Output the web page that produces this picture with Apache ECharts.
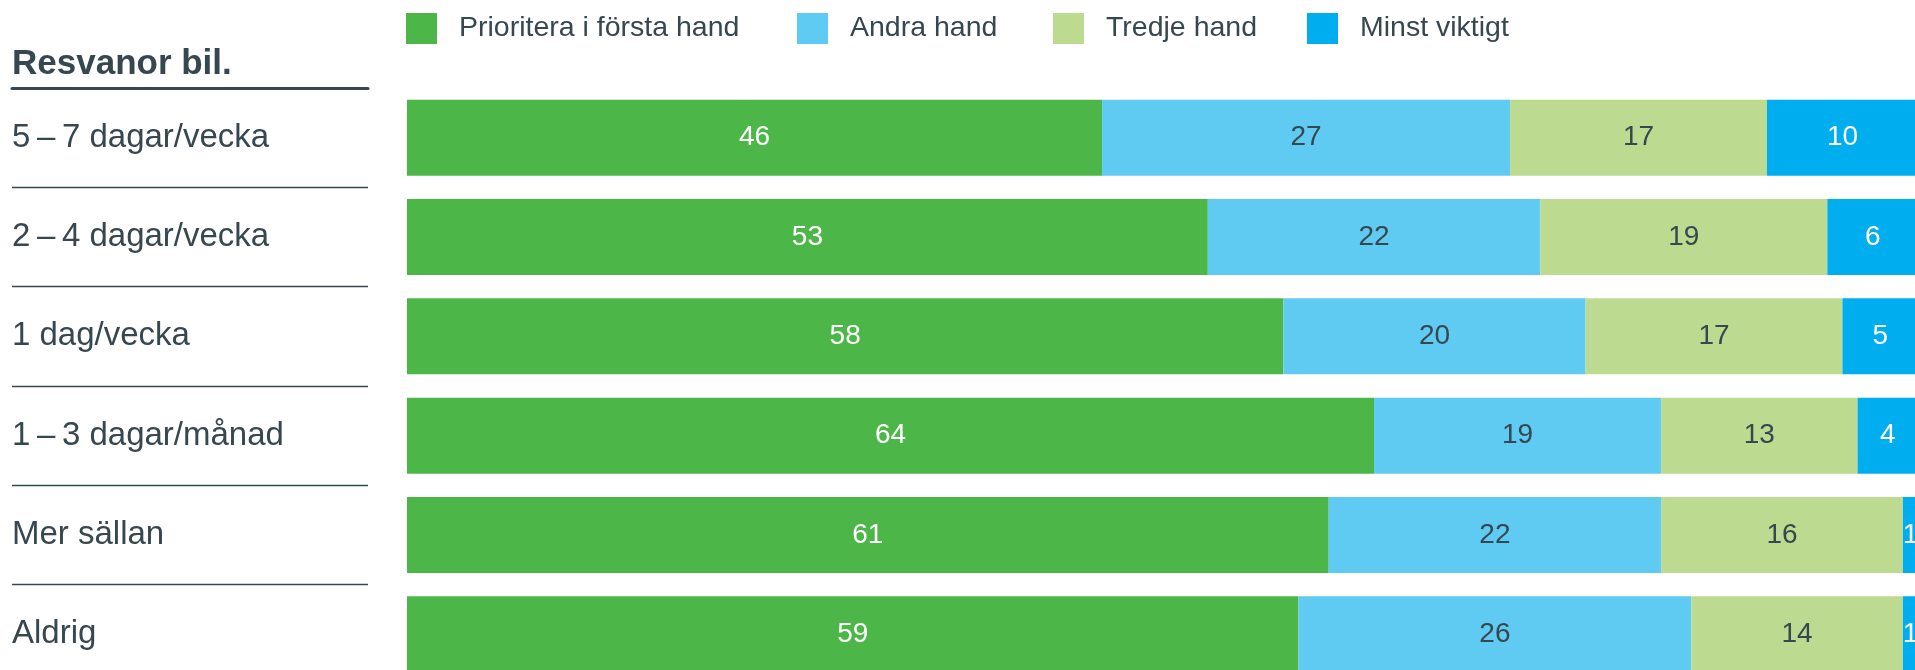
<!DOCTYPE html>
<html lang="sv">
<head>
  <meta charset="UTF-8">
  <title>Resvanor bil.</title>
  <script src="https://cdn.jsdelivr.net/npm/echarts@6.0.0/dist/echarts.min.js"></script>
  <style>
    html, body { margin: 0; padding: 0; background: #fff; overflow: hidden; }
  </style>
</head>
<body>
  <div id="chart" style="width:1915px;height:670px;"></div>

  <script>
    // kategorier (radrubriker)
    var categories = ['5\u2009–\u20097 dagar/vecka', '2\u2009–\u20094 dagar/vecka', '1 dag/vecka', '1\u2009–\u20093 dagar/månad', 'Mer sällan', 'Aldrig'];
    var seriesNames = ['Prioritera i första hand', 'Andra hand', 'Tredje hand', 'Minst viktigt'];

    // värden i procent
    var forstaHand = [46, 53, 58, 64, 61, 59];
    var andraHand = [27, 22, 20, 19, 22, 26];
    var tredjeHand = [17, 19, 17, 13, 16, 14];
    var minstViktigt = [10, 6, 5, 4, 1, 1];

    var colors = ['#4cb748', '#5fcbf3', '#bcdb91', '#00aeef'];
    var labelColors = ['#ffffff', '#37474f', '#37474f', '#ffffff'];
    var textColor = '#37474f';
    var font = '"Liberation Sans", Arial, sans-serif';

    var chart = echarts.init(document.getElementById('chart'));

    // en legend per post så att de hamnar där de ska
    var legendLeft = [401, 792, 1048, 1302];
    var legends = seriesNames.map(function (name, i) {
      return {
        data: [name],
        left: legendLeft[i],
        top: 8,
        itemWidth: 31,
        itemHeight: 31,
        icon: 'rect',
        selectedMode: false,
        textStyle: {
          fontFamily: font,
          fontSize: 28.5,
          color: textColor,
          padding: [0, 0, 0, 17]
        }
      };
    });

    var values = [forstaHand, andraHand, tredjeHand, minstViktigt];
    var series = values.map(function (arr, i) {
      return {
        name: seriesNames[i],
        type: 'bar',
        stack: 'total',
        xAxisIndex: 1,
        yAxisIndex: 1,
        barWidth: 76,
        data: arr,
        itemStyle: { color: colors[i] },
        label: {
          show: true,
          position: 'inside',
          fontFamily: font,
          fontSize: 28,
          color: labelColors[i]
        },
        emphasis: { disabled: true }
      };
    });

    var option = {
      animation: false,
      title: {
        text: 'Resvanor bil.',
        left: 7,
        top: 42,
        textStyle: {
          fontFamily: font,
          fontSize: 35,
          fontWeight: 'bold',
          color: textColor
        }
      },
      legend: legends,
      grid: [
        // vänster: rubrikstreck och radavdelare
        { left: 12, width: 356, top: 88, height: 596, outerBoundsMode: 'none' },
        // staplarna
        { left: 407, right: -3, top: 88, height: 596, outerBoundsMode: 'none' }
      ],
      xAxis: [
        {
          gridIndex: 0, type: 'value', min: 0, max: 1, position: 'top',
          axisLine: { show: true, lineStyle: { color: textColor, width: 3 } },
          axisTick: { show: false }, axisLabel: { show: false }, splitLine: { show: false }
        },
        {
          gridIndex: 1, type: 'value', min: 0, max: 100, show: false
        }
      ],
      yAxis: [
        {
          gridIndex: 0, type: 'category', data: categories, inverse: true,
          axisLine: { show: false }, axisTick: { show: false }, axisLabel: { show: false },
          splitLine: { show: true, lineStyle: { color: textColor, width: 1.3 } }
        },
        {
          gridIndex: 1, type: 'category', data: categories, inverse: true,
          axisLine: { show: false }, axisTick: { show: false }, splitLine: { show: false },
          axisLabel: {
            align: 'left',
            margin: 395,
            fontFamily: font,
            fontSize: 33,
            color: textColor
          }
        }
      ],
      series: series
    };

    chart.setOption(option);
  </script>
</body>
</html>
